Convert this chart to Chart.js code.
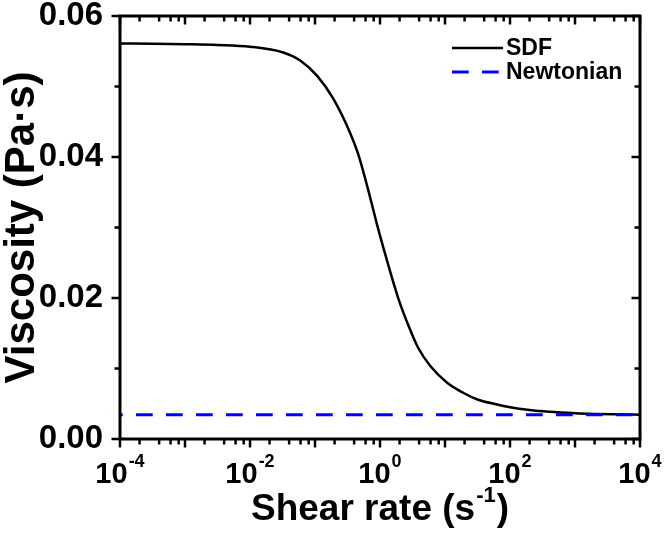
<!DOCTYPE html>
<html><head><meta charset="utf-8">
<script src="https://cdn.jsdelivr.net/npm/chart.js@4"></script>
<style>html,body{margin:0;padding:0;background:#fff}#wrap{width:666px;height:541px;position:relative}</style>
</head><body><div id="wrap"><canvas id="c" width="666" height="541"></canvas></div>
<script>
// ---- data ----
const shearRates = [0.0001, 0.000316, 0.001, 0.00316, 0.01, 0.0324, 0.0592, 0.108, 0.19, 0.347, 0.461, 0.634, 0.903, 1.117, 1.90, 2.91, 3.86, 5.90, 10.8, 19.0, 32.3, 63, 100, 200, 400, 1000, 2000, 4000, 10000];
const sdfViscosity = [0.0561, 0.05606, 0.0560, 0.0559, 0.05565, 0.05483, 0.05369, 0.05150, 0.04831, 0.04342, 0.04044, 0.03590, 0.03038, 0.02726, 0.02003, 0.01549, 0.01294, 0.01039, 0.00798, 0.00656, 0.00557, 0.0049, 0.0045, 0.0041, 0.00385, 0.00365, 0.00356, 0.0035, 0.00345];
const newtonianRates = [0.0001, 10000];
const newtonianViscosity = [0.00345, 0.00345];
const seriesNames = ['SDF', 'Newtonian'];
const xLabelExponents = ['-4', '-2', '0', '2', '4'];
const xDecades = [-4, -3, -2, -1, 0, 1, 2, 3, 4];
const yMajorTicks = [0, 0.02, 0.04, 0.06];
const yMinorTicks = [0.01, 0.03, 0.05];
const yTickLabels = ['0.00', '0.02', '0.04', '0.06'];
const xTitle = ['Shear rate (s', '-1', ')'];
const yTitle = 'Viscosity (Pa\u00b7s)';

const FONT = '"Liberation Sans", Arial, sans-serif';

const framePlugin = {
  id: 'frame',
  afterDraw(chart) {
    const ctx = chart.ctx, a = chart.chartArea;
    const xs = chart.scales.x, ys = chart.scales.y;
    ctx.save();
    ctx.strokeStyle = '#000';
    ctx.lineWidth = 3;
    ctx.strokeRect(a.left, a.top, a.right - a.left, a.bottom - a.top);
    ctx.lineWidth = 2.5;
    const MAJ = 8.5, MIN = 5.5;
    const tick = (x1, y1, x2, y2) => { ctx.beginPath(); ctx.moveTo(x1, y1); ctx.lineTo(x2, y2); ctx.stroke(); };
    xDecades.forEach((d, i) => {
      const v = Math.pow(10, d);
      const px = xs.getPixelForValue(v);
      tick(px, a.bottom, px, a.bottom + MAJ);
      tick(px, a.top, px, a.top + MAJ);
      if (i < xDecades.length - 1) {
        [2, 4, 6, 8].forEach(m => {
          const p = xs.getPixelForValue(m * v);
          tick(p, a.bottom, p, a.bottom + MIN);
          tick(p, a.top, p, a.top + MIN);
        });
      }
    });
    yMajorTicks.forEach(v => {
      const py = ys.getPixelForValue(v);
      tick(a.left, py, a.left - MAJ, py);
      tick(a.right, py, a.right - MAJ, py);
    });
    yMinorTicks.forEach(v => {
      const py = ys.getPixelForValue(v);
      tick(a.left, py, a.left - MIN, py);
      tick(a.right, py, a.right - MIN, py);
    });
    // x tick labels with superscripts
    ctx.fillStyle = '#000';
    ctx.textBaseline = 'alphabetic';
    ctx.textAlign = 'left';
    xLabelExponents.forEach(e => {
      const px = xs.getPixelForValue(Math.pow(10, Number(e)));
      ctx.font = 'bold 29px ' + FONT;
      const wb = ctx.measureText('10').width;
      ctx.font = 'bold 18px ' + FONT;
      const we = ctx.measureText(e).width;
      const start = px - (wb + 1 + we) / 2;
      ctx.font = 'bold 29px ' + FONT;
      ctx.fillText('10', start, 483);
      ctx.font = 'bold 18px ' + FONT;
      ctx.fillText(e, start + wb + 1, 467);
    });
    // x title
    ctx.font = 'bold 37px ' + FONT;
    const w1 = ctx.measureText(xTitle[0]).width;
    const w3 = ctx.measureText(xTitle[2]).width;
    ctx.font = 'bold 22px ' + FONT;
    const w2 = ctx.measureText(xTitle[1]).width;
    const cx = (a.left + a.right) / 2;
    let sx = cx - (w1 + w2 + w3 + 2) / 2;
    ctx.font = 'bold 37px ' + FONT;
    ctx.fillText(xTitle[0], sx, 520);
    ctx.font = 'bold 22px ' + FONT;
    ctx.fillText(xTitle[1], sx + w1 + 1, 502);
    ctx.font = 'bold 37px ' + FONT;
    ctx.fillText(xTitle[2], sx + w1 + w2 + 2, 520);
    // legend
    const ds = chart.data.datasets;
    const rows = [{d: ds[1], y: 48}, {d: ds[0], y: 72}];
    rows.forEach(r => {
      ctx.save();
      ctx.strokeStyle = r.d.borderColor;
      ctx.lineWidth = r.d.borderWidth;
      ctx.setLineDash(r.d.borderDash || []);
      ctx.lineDashOffset = 0;
      ctx.beginPath(); ctx.moveTo(452, r.y); ctx.lineTo(503, r.y); ctx.stroke();
      ctx.restore();
      ctx.font = 'bold 23px ' + FONT;
      ctx.textBaseline = 'middle';
      ctx.fillStyle = '#000';
      ctx.fillText(r.d.label, 506, r.y + 1);
    });
    ctx.restore();
  }
};

new Chart(document.getElementById('c'), {
  type: 'line',
  data: {
    datasets: [
      {
        label: seriesNames[1],
        data: newtonianRates.map((x, i) => ({x, y: newtonianViscosity[i]})),
        borderColor: '#0000ff',
        borderWidth: 3,
        borderDash: [16.7, 13.3],
        borderDashOffset: 14,
        pointRadius: 0,
        order: 0
      },
      {
        label: seriesNames[0],
        data: shearRates.map((x, i) => ({x, y: sdfViscosity[i]})),
        borderColor: '#000000',
        borderWidth: 2.5,
        cubicInterpolationMode: 'monotone',
        pointRadius: 0,
        order: 1
      }
    ]
  },
  plugins: [framePlugin],
  options: {
    responsive: false,
    animation: false,
    devicePixelRatio: 1,
    layout: {padding: {top: 16, right: 26, left: 0, bottom: 0}},
    plugins: {legend: {display: false}, tooltip: {enabled: false}},
    scales: {
      x: {
        type: 'logarithmic', min: 1e-4, max: 1e4,
        grid: {display: false}, border: {display: false},
        ticks: {display: false},
        afterFit(s) { s.height = 102; s.paddingLeft = 0; s.paddingRight = 0; }
      },
      y: {
        type: 'linear', min: 0, max: 0.06,
        grid: {display: false}, border: {display: false},
        afterBuildTicks(s) { s.ticks = yMajorTicks.map(v => ({value: v})); },
        ticks: {
          color: '#000', padding: 9,
          font: {family: FONT, weight: 'bold', size: 33, lineHeight: 0.9},
          callback: (v, i) => yTickLabels[i]
        },
        title: {
          display: true, text: yTitle, color: '#000', padding: {top: -3},
          font: {family: FONT, weight: 'bold', size: 42, lineHeight: 1.2}
        },
        afterFit(s) { s.width = 120; s.paddingTop = 0; s.paddingBottom = 0; }
      }
    }
  }
});
</script></body></html>
